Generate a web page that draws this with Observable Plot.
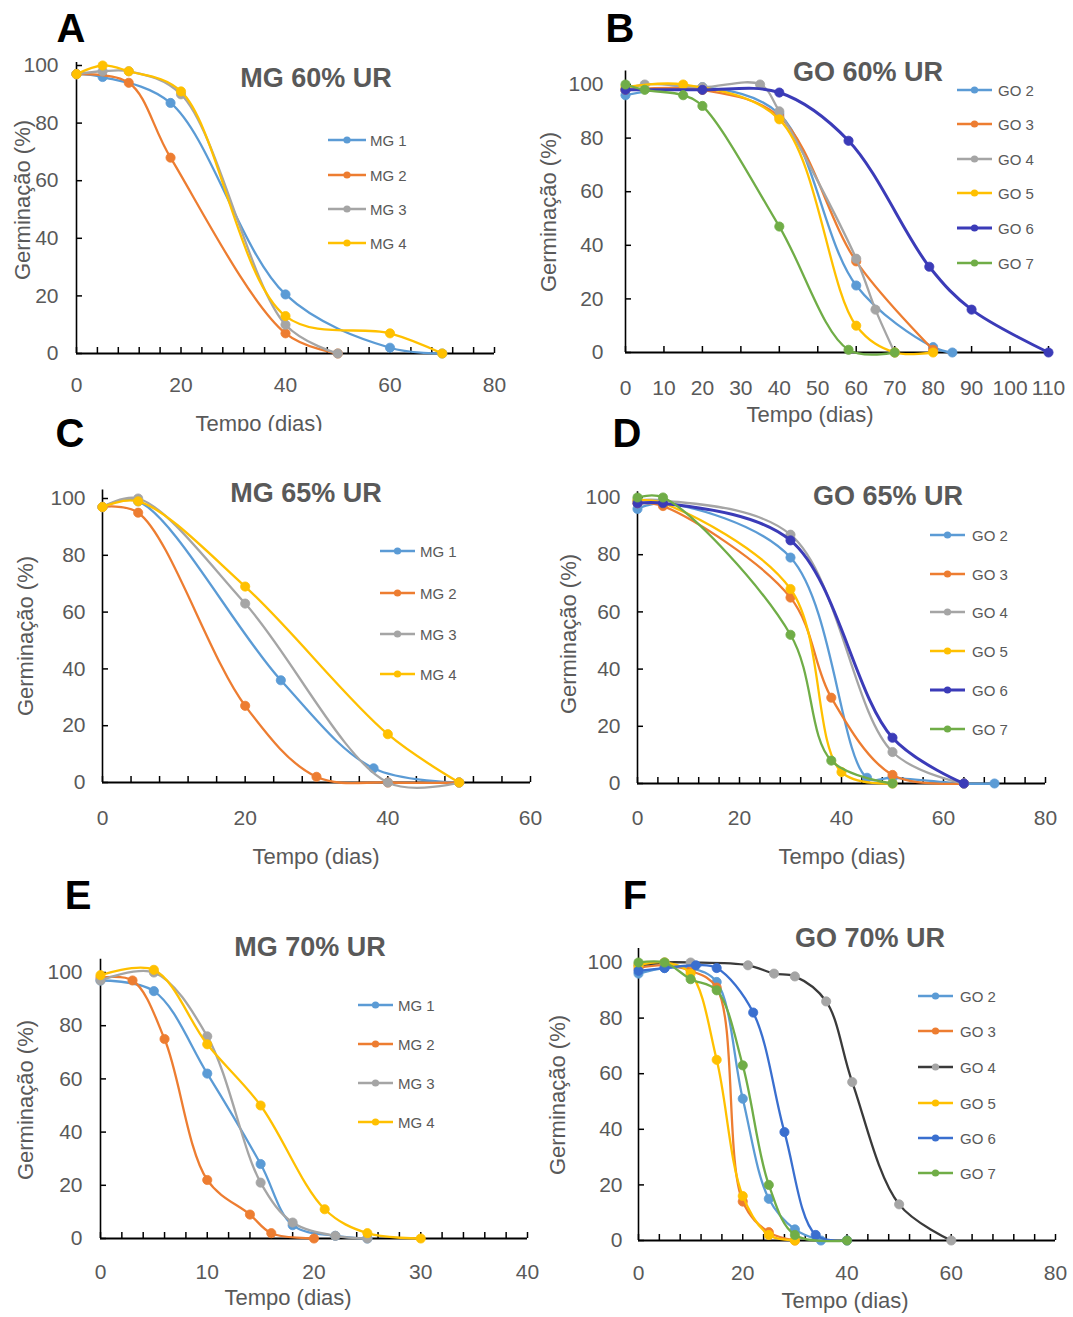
<!DOCTYPE html>
<html>
<head>
<meta charset="utf-8">
<script src="https://cdn.jsdelivr.net/npm/d3@7"></script>
<script src="https://cdn.jsdelivr.net/npm/@observablehq/plot@0.6"></script>
<style>
  html, body { margin: 0; padding: 0; background: #fff; }
  #page { position: relative; width: 1073px; height: 1317px; overflow: hidden; }
  #page svg { position: absolute; left: 0; top: 0; }
</style>
</head>
<body>
<div id="page"></div>
<script>
// ---- Series names and colours ----
const namesMG = ["MG 1", "MG 2", "MG 3", "MG 4"];
const namesGO = ["GO 2", "GO 3", "GO 4", "GO 5", "GO 6", "GO 7"];
const coloursMG = ["#5B9BD5", "#ED7D31", "#A5A5A5", "#FFC000"];
const coloursGO = ["#5B9BD5", "#ED7D31", "#A5A5A5", "#FFC000", "#3B3BB8", "#70AD47"];
const coloursGO70 = ["#5B9BD5", "#ED7D31", "#3A3A3A", "#FFC000", "#3A6FCF", "#70AD47"];
const markersGO70 = ["#5B9BD5", "#ED7D31", "#A5A5A5", "#FFC000", "#3A6FCF", "#70AD47"];

// ---- Tick labels ----
const yTickLabels = [0, 20, 40, 60, 80, 100];
const xTicksA = [0, 20, 40, 60, 80];
const xTicksB = [0, 10, 20, 30, 40, 50, 60, 70, 80, 90, 100, 110];
const xTicksC = [0, 20, 40, 60];
const xTicksD = [0, 20, 40, 60, 80];
const xTicksE = [0, 10, 20, 30, 40];
const xTicksF = [0, 20, 40, 60, 80];

// ---- A: MG 60% UR  [dias, germinação %] ----
const A_MG1 = [[0, 97], [5, 96], [18, 87], [40, 20.5], [60, 2], [70, 0]];
const A_MG2 = [[0, 97], [10, 94], [18, 68], [40, 7], [50, 0]];
const A_MG3 = [[0, 97], [5, 98], [10, 98], [20, 90], [40, 10], [50, 0]];
const A_MG4 = [[0, 97], [5, 100], [10, 98], [20, 91], [40, 13], [60, 7], [70, 0]];

// ---- B: GO 60% UR ----
const B_GO2 = [[0, 96], [20, 99], [40, 89], [60, 25], [80, 2], [85, 0]];
const B_GO3 = [[0, 98], [20, 98], [40, 88], [60, 34], [80, 1]];
const B_GO4 = [[0, 98], [5, 100], [20, 99], [35, 100], [40, 90], [60, 35], [65, 16], [70, 0]];
const B_GO5 = [[0, 99], [15, 100], [40, 87], [60, 10], [70, 0], [80, 0]];
const B_GO6 = [[0, 98], [20, 98], [40, 97], [58, 79], [79, 32], [90, 16], [110, 0]];
const B_GO7 = [[0, 100], [5, 98], [15, 96], [20, 92], [40, 47], [58, 1], [70, 0]];

// ---- C: MG 65% UR ----
const C_MG1 = [[0, 97], [5, 99], [25, 36], [38, 5], [50, 0]];
const C_MG2 = [[0, 97], [5, 95], [20, 27], [30, 2], [40, 0], [50, 0]];
const C_MG3 = [[0, 97], [5, 100], [20, 63], [40, 0], [50, 0]];
const C_MG4 = [[0, 97], [5, 99], [20, 69], [40, 17], [50, 0]];

// ---- D: GO 65% UR ----
const D_GO2 = [[0, 96], [5, 98], [30, 79], [45, 2], [50, 2], [64, 0], [70, 0]];
const D_GO3 = [[0, 98], [5, 97], [30, 65], [38, 30], [50, 3], [64, 0]];
const D_GO4 = [[0, 99], [5, 99], [30, 87], [50, 11], [64, 0]];
const D_GO5 = [[0, 99], [5, 98], [30, 68], [40, 4], [50, 0]];
const D_GO6 = [[0, 98], [5, 98], [30, 85], [50, 16], [64, 0]];
const D_GO7 = [[0, 100], [5, 100], [30, 52], [38, 8], [50, 0]];

// ---- E: MG 70% UR ----
const E_MG1 = [[0, 97], [5, 93], [10, 62], [15, 28], [18, 5], [22, 1], [25, 0]];
const E_MG2 = [[0, 98], [3, 97], [6, 75], [10, 22], [14, 9], [16, 2], [20, 0]];
const E_MG3 = [[0, 97], [5, 100], [10, 76], [15, 21], [18, 6], [22, 1], [25, 0]];
const E_MG4 = [[0, 99], [5, 101], [10, 73], [15, 50], [21, 11], [25, 2], [30, 0]];

// ---- F: GO 70% UR ----
const F_GO2 = [[0, 96], [5, 98], [10, 98], [15, 93], [20, 51], [25, 15], [30, 4], [35, 0]];
const F_GO3 = [[0, 98], [5, 99], [10, 97], [15, 91], [20, 14], [25, 3], [30, 0]];
const F_GO4 = [[0, 99], [5, 100], [10, 100], [21, 99], [26, 96], [30, 95], [36, 86], [41, 57], [50, 13], [60, 0]];
const F_GO5 = [[0, 99], [5, 100], [10, 96], [15, 65], [20, 16], [25, 2], [30, 0]];
const F_GO6 = [[0, 97], [5, 98], [11, 99], [15, 98], [22, 82], [28, 39], [34, 2], [40, 0]];
const F_GO7 = [[0, 100], [5, 100], [10, 94], [15, 90], [20, 63], [25, 20], [30, 2], [40, 0]];

// ---- Panel layout ----
const panels = [
  { letter: "A", title: "MG 60% UR", names: namesMG, series: [A_MG1, A_MG2, A_MG3, A_MG4],
    lines: coloursMG, markers: coloursMG, xTicks: xTicksA, minor: 4,
    xRange: [76, 494], yRange: [353, 65], yTop: 101, xPad: 32, yPad: 18,
    letterAt: [71, 28], titleAt: [316, 78], yTitleAt: [22, 200], xTitleAt: [259, 423], xTitleClip: 431,
    legendRows: [140, 175, 209, 243], legendLine: [328, 366], legendText: 370 },
  { letter: "B", title: "GO 60% UR", names: namesGO, series: [B_GO2, B_GO3, B_GO4, B_GO5, B_GO6, B_GO7],
    lines: coloursGO, markers: coloursGO, xTicks: xTicksB, minor: 10, thick: 4,
    xRange: [625, 1048], yRange: [352, 84], yTop: 105, xPad: 36, yPad: 22,
    letterAt: [620, 28], titleAt: [868, 72], yTitleAt: [548, 212], xTitleAt: [810, 414],
    legendRows: [90, 124, 159, 193, 228, 263], legendLine: [957, 992], legendText: 998 },
  { letter: "C", title: "MG 65% UR", names: namesMG, series: [C_MG1, C_MG2, C_MG3, C_MG4],
    lines: coloursMG, markers: coloursMG, xTicks: xTicksC, minor: 4,
    xRange: [102, 530], yRange: [782, 498], yTop: 103, xPad: 36, yPad: 17,
    letterAt: [70, 433], titleAt: [306, 493], yTitleAt: [25, 636], xTitleAt: [316, 856],
    legendRows: [551, 593, 634, 674], legendLine: [380, 415], legendText: 420 },
  { letter: "D", title: "GO 65% UR", names: namesGO, series: [D_GO2, D_GO3, D_GO4, D_GO5, D_GO6, D_GO7],
    lines: coloursGO, markers: coloursGO, xTicks: xTicksD, minor: 4, thick: 4,
    xRange: [637, 1045], yRange: [783, 497], yTop: 102, xPad: 35, yPad: 17,
    letterAt: [627, 433], titleAt: [888, 496], yTitleAt: [568, 634], xTitleAt: [842, 856],
    legendRows: [535, 574, 612, 651, 690, 729], legendLine: [930, 965], legendText: 972 },
  { letter: "E", title: "MG 70% UR", names: namesMG, series: [E_MG1, E_MG2, E_MG3, E_MG4],
    lines: coloursMG, markers: coloursMG, xTicks: xTicksE, minor: 2,
    xRange: [100, 527], yRange: [1238, 972], yTop: 105, xPad: 34, yPad: 18,
    letterAt: [78, 895], titleAt: [310, 947], yTitleAt: [25, 1100], xTitleAt: [288, 1297],
    legendRows: [1005, 1044, 1083, 1122], legendLine: [358, 393], legendText: 398 },
  { letter: "F", title: "GO 70% UR", names: namesGO, series: [F_GO2, F_GO3, F_GO4, F_GO5, F_GO6, F_GO7],
    lines: coloursGO70, markers: markersGO70, xTicks: xTicksF, minor: 4,
    xRange: [638, 1055], yRange: [1240, 962], yTop: 105, xPad: 33, yPad: 16,
    letterAt: [635, 895], titleAt: [870, 938], yTitleAt: [557, 1095], xTitleAt: [845, 1300],
    legendRows: [996, 1031, 1067, 1103, 1138, 1173], legendLine: [918, 953], legendText: 960 }
];

const W = 1073, H = 1317;
const FONT = "'Liberation Sans', Arial, sans-serif";
const GREY = "#595959";
const page = document.getElementById("page");

for (const p of panels) {
  const xMax = p.xTicks[p.xTicks.length - 1];
  const xDomain = [0, xMax];
  // tick length of 6px expressed in data units
  const tickY = 6 * 100 / (p.yRange[0] - p.yRange[1]);
  const tickX = 6 * xMax / (p.xRange[1] - p.xRange[0]);
  const minorTicks = d3.range(0, xMax + 1e-9, p.minor);

  const seriesMarks = p.series.flatMap((s, i) => [
    Plot.line(s, {x: d => d[0], y: d => d[1], stroke: p.lines[i],
      strokeWidth: p.thick === i ? 3 : 2.3, curve: "catmull-rom"}),
    Plot.dot(s, {x: d => d[0], y: d => d[1], r: 4.6, fill: p.markers[i], stroke: p.markers[i], strokeWidth: 0.8})
  ]);

  // every panel shares the page-sized canvas; the margins place its frame
  const chart = Plot.plot({
    width: W, height: H,
    marginLeft: p.xRange[0], marginRight: W - p.xRange[1],
    marginTop: p.yRange[1], marginBottom: H - p.yRange[0],
    x: {domain: xDomain},
    y: {domain: [0, 100]},
    style: {background: "transparent", fontFamily: FONT, overflow: "visible"},
    marks: [
      Plot.ruleY([0], {x1: xDomain[0], x2: xDomain[1], stroke: "#000", strokeWidth: 2}),
      Plot.ruleX([0], {y1: 0, y2: p.yTop, stroke: "#000", strokeWidth: 1.6}),
      Plot.ruleX(minorTicks, {x: d => d, y1: 0, y2: tickY, stroke: "#000", strokeWidth: 1.5}),
      Plot.ruleY(yTickLabels, {y: d => d, x1: 0, x2: tickX, stroke: "#000", strokeWidth: 1.5}),
      Plot.axisX({ticks: p.xTicks, tickSize: 0, tickPadding: p.xPad, lineAnchor: "middle",
        fontSize: 21, color: GREY, label: null, tickFormat: d => String(d)}),
      Plot.axisY({ticks: yTickLabels, tickSize: 0, tickPadding: p.yPad,
        fontSize: 21, color: GREY, label: null, tickFormat: d => String(d)}),
      ...seriesMarks
    ]
  });
  page.appendChild(chart);
}

// ---- Panel letters, titles, axis titles and legends ----
const overlay = d3.create("svg").attr("width", W).attr("height", H)
  .style("font-family", FONT);
const defs = overlay.append("defs");

panels.forEach((p, k) => {
  overlay.append("text").attr("x", p.letterAt[0]).attr("y", p.letterAt[1])
    .attr("text-anchor", "middle").attr("dominant-baseline", "central")
    .attr("font-size", 40).attr("font-weight", "bold").attr("fill", "#000").text(p.letter);

  overlay.append("text").attr("x", p.titleAt[0]).attr("y", p.titleAt[1])
    .attr("text-anchor", "middle").attr("dominant-baseline", "central")
    .attr("font-size", 27).attr("font-weight", "bold").attr("fill", GREY).text(p.title);

  overlay.append("text")
    .attr("transform", `translate(${p.yTitleAt[0]},${p.yTitleAt[1]}) rotate(-90)`)
    .attr("text-anchor", "middle").attr("dominant-baseline", "central")
    .attr("font-size", 22).attr("fill", GREY).text("Germinação (%)");

  const xt = overlay.append("text").attr("x", p.xTitleAt[0]).attr("y", p.xTitleAt[1])
    .attr("text-anchor", "middle").attr("dominant-baseline", "central")
    .attr("font-size", 22).attr("fill", GREY).text("Tempo (dias)");
  if (p.xTitleClip) {
    const id = "clip" + k;
    defs.append("clipPath").attr("id", id).append("rect")
      .attr("x", 0).attr("y", 0).attr("width", W).attr("height", p.xTitleClip);
    xt.attr("clip-path", `url(#${id})`);
  }

  p.names.forEach((name, i) => {
    const y = p.legendRows[i];
    const [l0, l1] = p.legendLine;
    overlay.append("line").attr("x1", l0).attr("x2", l1).attr("y1", y).attr("y2", y)
      .attr("stroke", p.lines[i]).attr("stroke-width", p.thick === i ? 3 : 2.3);
    overlay.append("circle").attr("cx", (l0 + l1) / 2).attr("cy", y).attr("r", 3.6)
      .attr("fill", p.markers[i]);
    overlay.append("text").attr("x", p.legendText).attr("y", y)
      .attr("dominant-baseline", "central").attr("font-size", 15).attr("fill", GREY)
      .text(name);
  });
});

page.appendChild(overlay.node());
</script>
</body>
</html>
